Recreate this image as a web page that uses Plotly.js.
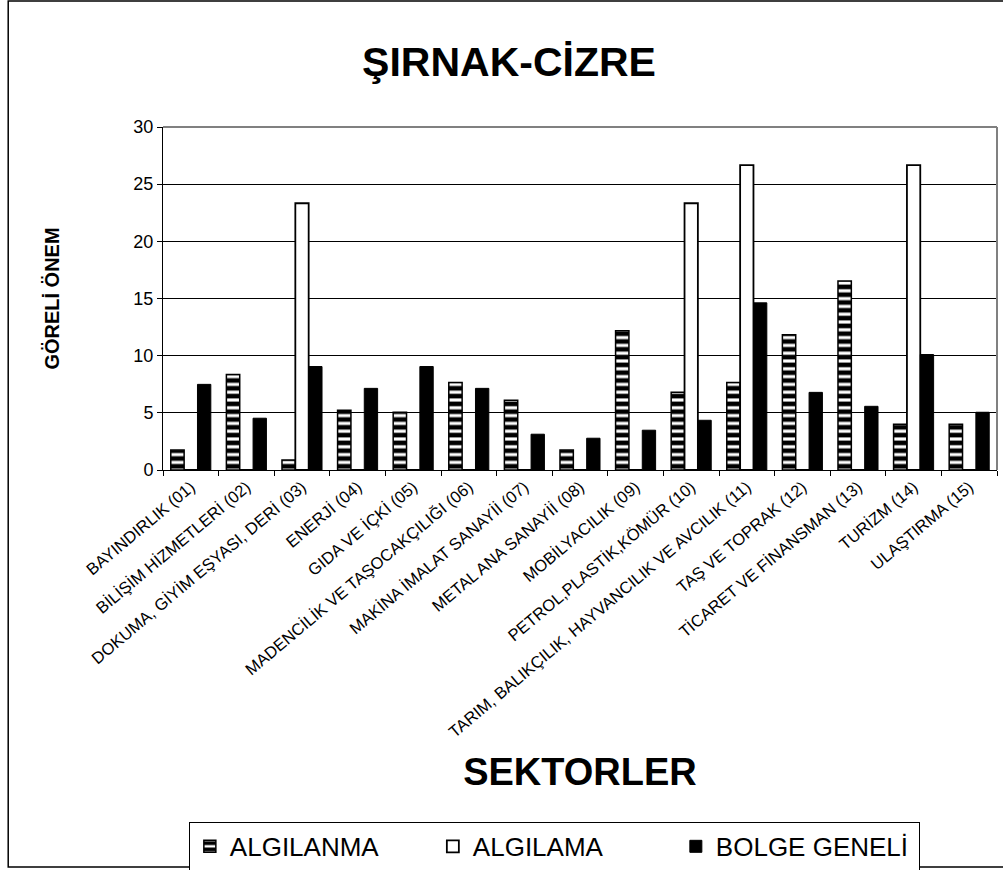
<!DOCTYPE html>
<html>
<head>
<meta charset="utf-8">
<script src="https://cdn.plot.ly/plotly-3.0.1.min.js"></script>
<style>html,body{margin:0;padding:0;background:#fff;}#chart{width:1003px;height:870px;}</style>
</head>
<body>
<div id="chart"></div>
<script>
var categories = [
  "BAYINDIRLIK (01)",
  "BİLİŞİM HİZMETLERİ (02)",
  "DOKUMA, GİYİM EŞYASI, DERİ (03)",
  "ENERJİ (04)",
  "GIDA VE İÇKİ (05)",
  "MADENCİLİK VE TAŞOCAKÇILIĞI (06)",
  "MAKİNA İMALAT SANAYİİ (07)",
  "METAL ANA SANAYİİ (08)",
  "MOBİLYACILIK (09)",
  "PETROL,PLASTİK,KÖMÜR (10)",
  "TARIM, BALIKÇILIK, HAYVANCILIK VE AVCILIK (11)",
  "TAŞ VE TOPRAK (12)",
  "TİCARET VE FİNANSMAN (13)",
  "TURİZM (14)",
  "ULAŞTIRMA (15)"
];
var algilanma = [1.74, 8.36, 0.87, 5.22, 5.05, 7.66, 6.09, 1.74, 12.18, 6.79, 7.66, 11.84, 16.54, 4.0, 4.0];
var algilama  = [0, 0, 23.33, 0, 0, 0, 0, 0, 0, 23.33, 26.67, 0, 0, 26.67, 0];
var bolgeGeneli = [7.49, 4.53, 9.05, 7.14, 9.05, 7.14, 3.13, 2.78, 3.48, 4.35, 14.62, 6.79, 5.57, 10.1, 5.05];
var seriesNames = ["ALGILANMA", "ALGILAMA", "BOLGE GENELİ"];

var FONT = "Liberation Sans, Arial, sans-serif";

var traces = [
  {
    type: "bar", name: seriesNames[0], x: categories, y: algilanma,
    marker: {
      color: "#ffffff",
      line: {color: "#000000", width: 1.5},
      pattern: {shape: "-", fgcolor: "#000000", bgcolor: "#ffffff", size: 7.8, solidity: 0.6, fillmode: "replace"}
    }
  },
  {
    type: "bar", name: seriesNames[1], x: categories, y: algilama,
    marker: {color: "#ffffff", line: {color: "#000000", width: 1.8}}
  },
  {
    type: "bar", name: seriesNames[2], x: categories, y: bolgeGeneli,
    marker: {color: "#000000", line: {color: "#000000", width: 1}}
  }
];

var layout = {
  width: 1003, height: 870,
  margin: {l: 163, r: 6, t: 127, b: 400, pad: 0, autoexpand: false},
  paper_bgcolor: "#ffffff", plot_bgcolor: "#ffffff",
  font: {family: FONT, color: "#000000"},
  barmode: "group", bargap: 0.28, bargroupgap: 0,
  showlegend: true,
  hovermode: false,
  title: {
    text: "ŞIRNAK-CİZRE",
    font: {family: FONT, size: 41, weight: "bold", color: "#000000"},
    xref: "container", yref: "container",
    x: 0.5075, xanchor: "center", y: 0.929, yanchor: "middle"
  },
  xaxis: {
    type: "category",
    automargin: false,
    showline: true, linecolor: "#000000", linewidth: 1,
    ticks: "outside", tickson: "boundaries", ticklen: 5, tickcolor: "#000000", tickwidth: 1,
    tickangle: -40,
    tickfont: {family: FONT, size: 16.5, color: "#000000"},
    showgrid: false, zeroline: false,
    title: {text: "SEKTORLER", font: {family: FONT, size: 38, weight: "bold", color: "#000000"}, standoff: 18}
  },
  yaxis: {
    range: [0, 30], dtick: 5, tick0: 0,
    automargin: false,
    showline: true, linecolor: "#000000", linewidth: 1,
    ticks: "outside", ticklen: 5, tickcolor: "#000000", tickwidth: 1,
    tickfont: {family: FONT, size: 18, color: "#000000"},
    showgrid: true, gridcolor: "#000000", gridwidth: 1,
    zeroline: true, zerolinecolor: "#000000", zerolinewidth: 1,
    title: {text: "GÖRELİ ÖNEM", font: {family: FONT, size: 20, weight: "bold", color: "#000000"}, standoff: 68}
  },
  legend: {
    orientation: "h",
    x: 0.031, xanchor: "left",
    y: -1.026, yanchor: "top",
    bgcolor: "#ffffff", bordercolor: "#000000", borderwidth: 1,
    font: {family: FONT, size: 26, color: "#000000"},
    itemwidth: 30, traceorder: "normal",
    entrywidth: 198, entrywidthmode: "pixels"
  },
  shapes: [
    {type: "line", xref: "paper", yref: "paper", x0: 0, x1: 1, y0: 1, y1: 1, line: {color: "#808080", width: 2}, layer: "above"},
    {type: "line", xref: "paper", yref: "paper", x0: 1, x1: 1, y0: 0, y1: 1, line: {color: "#808080", width: 2}, layer: "above"},
    {type: "rect", xref: "paper", yref: "paper", x0: -0.1856, x1: 1.05, y0: -1.1574, y1: 1.3673, line: {color: "#000000", width: 1.5}, layer: "above"}
  ]
};

Plotly.newPlot("chart", traces, layout, {displayModeBar: false, staticPlot: true});
</script>
</body>
</html>
